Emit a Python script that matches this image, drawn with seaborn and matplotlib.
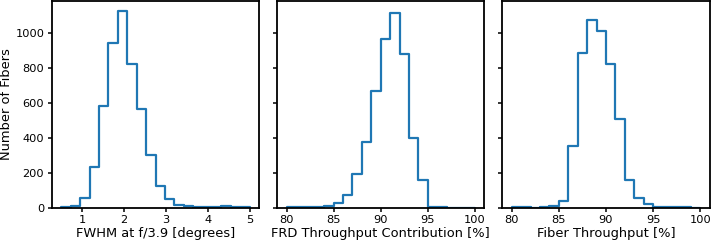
import numpy as np
import pandas as pd
import seaborn as sns
import matplotlib
matplotlib.use("Agg")
import matplotlib.pyplot as plt

sns.set_style("ticks")
plt.rcParams['font.family'] = ['DejaVu Sans']
plt.rcParams['text.color'] = 'black'
plt.rcParams['axes.labelcolor'] = 'black'
plt.rcParams['xtick.color'] = 'black'
plt.rcParams['ytick.color'] = 'black'

# FWHM histogram (20 bins from 0.5 to 5.0 degrees)
fwhm_edges = np.linspace(0.5, 5.0, 21)
fwhm_counts = [2, 6, 55, 233, 584, 946, 1130, 823, 565, 300,
               123, 46, 15, 8, 2, 2, 3, 10, 4, 2]

# FRD throughput contribution (1% bins, 80-100)
frd_edges = np.arange(80, 101, 1)
frd_counts = [4, 2, 1, 4, 11, 23, 69, 190, 375, 668,
              967, 1118, 879, 400, 157, 1, 1, 0, 0, 0]

# Fiber throughput (1% bins, 80-100)
fib_edges = np.arange(80, 101, 1)
fib_counts = [1, 1, 0, 2, 7, 38, 354, 885, 1076, 1015,
              823, 506, 160, 55, 20, 4, 4, 2, 1, 0]

panels = [
    (fwhm_edges, fwhm_counts, "FWHM at f/3.9 [degrees]", [1, 2, 3, 4, 5]),
    (frd_edges, frd_counts, "FRD Throughput Contribution [%]", [80, 85, 90, 95, 100]),
    (fib_edges, fib_counts, "Fiber Throughput [%]", [80, 85, 90, 95, 100]),
]

fig, axes = plt.subplots(1, 3, figsize=(7.11, 2.41), dpi=100, sharey=True)
fig.subplots_adjust(left=0.073, right=0.998, bottom=0.139, top=0.997, wspace=0.087)

ymax = max(max(c) for _, c, _, _ in panels) * 1.05

for ax, (edges, counts, label, ticks) in zip(axes, panels):
    df = pd.DataFrame({"x": (edges[:-1] + edges[1:]) / 2, "n": counts})
    sns.histplot(data=df, x="x", weights="n", bins=list(edges), element="step",
                 fill=False, color="#1f77b4", linewidth=1.6, ax=ax)
    pad = (edges[-1] - edges[0]) * 0.05
    ax.set_xlim(edges[0] - pad, edges[-1] + pad)
    ax.set_ylim(0, ymax)
    ax.set_xticks(ticks)
    ax.set_yticks([0, 200, 400, 600, 800, 1000])
    ax.set_xlabel(label, fontsize=9.4, labelpad=1.5)
    ax.set_ylabel("")
    ax.tick_params(labelsize=8.2, length=3.2, width=1.1, pad=2.3)
    for s in ax.spines.values():
        s.set_color("black")
        s.set_linewidth(1.3)

axes[0].set_ylabel("Number of Fibers", fontsize=9.4, labelpad=1.5)

fig.savefig("out.png", dpi=100)
